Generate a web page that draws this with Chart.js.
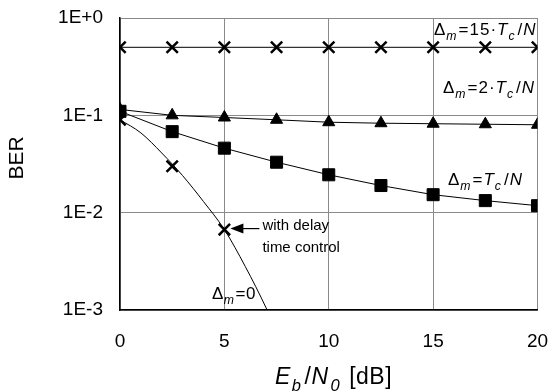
<!DOCTYPE html>
<html>
<head>
<meta charset="utf-8">
<script src="https://cdn.jsdelivr.net/npm/chart.js@4.4.1/dist/chart.umd.min.js"></script>
<style>
  body { margin: 0; background: #fff; }
  #wrap { width: 548px; height: 392px; }
</style>
</head>
<body>
<div id="wrap"><canvas id="myChart" width="548" height="392"></canvas></div>
<script>
// Eb/N0 points (dB) where the simulated markers sit
const ebn0 = [0, 2.5, 5, 7.5, 10, 12.5, 15, 17.5, 20];
// BER
const ber15 = [0.5, 0.5, 0.5, 0.5, 0.5, 0.5, 0.5, 0.5, 0.5];
const ber2 = [0.115, 0.1, 0.095, 0.09, 0.085, 0.083, 0.082, 0.081, 0.08];
const ber1 = [0.11, 0.068, 0.046, 0.033, 0.0245, 0.019, 0.0153, 0.0133, 0.0118];
// delta_m = 0 : markers and the smooth curve
const ebn0Zero = [0, 2.5, 5];
const berZero = [0.09, 0.030, 0.0067];
const curveX = [0, 1, 2, 3, 4, 5, 6, 7, 7.5];
const curveY = [0.09, 0.066, 0.041, 0.024, 0.013, 0.0067, 0.0028, 0.00105, 0.0006];
const yTicks = [0.001, 0.01, 0.1, 1];
const yTickLabels = ["1E-3", "1E-2", "1E-1", "1E+0"];

const FONT = "'Liberation Sans', Arial, sans-serif";

function pts(xs, ys) {
    return xs.map((x, i) => ({ x: x, y: ys[i] }));
}

// draws text made of pieces: {t, it, sub}
function drawRich(ctx, x, y, parts, size, spacing) {
    let cx = x;
    ctx.letterSpacing = (spacing || 0) + "px";
    parts.forEach(p => {
        let s = p.sub ? size * 0.72 : size;
        ctx.font = (p.it ? "italic " : "") + s + "px " + FONT;
        ctx.fillText(p.t, cx, y + (p.sub ? size * 0.3 : 0));
        cx += ctx.measureText(p.t).width + (p.gap || 0);
    });
    ctx.letterSpacing = "0px";
}

const labels = {
    id: "labels",
    afterDraw(chart) {
        const ctx = chart.ctx;
        const xs = chart.scales.x, ys = chart.scales.y;
        ctx.save();
        ctx.fillStyle = "#000";
        ctx.textBaseline = "alphabetic";
        ctx.textAlign = "left";

        drawRich(ctx, 434, 35, [{t: "\u0394"}, {t: "m", it: 1, sub: 1, gap: 1}, {t: "=15\u00b7"}, {t: "T", it: 1}, {t: "c", it: 1, sub: 1, gap: 2}, {t: "/"}, {t: "N", it: 1}], 17, 1);
        drawRich(ctx, 443, 93, [{t: "\u0394"}, {t: "m", it: 1, sub: 1, gap: 1}, {t: "=2\u00b7"}, {t: "T", it: 1}, {t: "c", it: 1, sub: 1, gap: 2}, {t: "/"}, {t: "N", it: 1}], 17, 1);
        drawRich(ctx, 448, 185, [{t: "\u0394"}, {t: "m", it: 1, sub: 1, gap: 1}, {t: "="}, {t: "T", it: 1}, {t: "c", it: 1, sub: 1, gap: 2}, {t: "/"}, {t: "N", it: 1}], 17, 1);
        drawRich(ctx, 212, 299, [{t: "\u0394"}, {t: "m", it: 1, sub: 1, gap: 1}, {t: "=0"}], 17, 0.5);

        // annotation with arrow to the 5 dB marker
        const px = xs.getPixelForValue(5), py = ys.getPixelForValue(0.0067);
        ctx.font = "15px " + FONT;
        ctx.fillText("with delay", px + 38, py);
        ctx.fillText("time control", px + 38, py + 22);
        ctx.strokeStyle = "#000";
        ctx.lineWidth = 1.2;
        ctx.beginPath();
        ctx.moveTo(px + 35, py - 1);
        ctx.lineTo(px + 14, py - 1);
        ctx.stroke();
        ctx.beginPath();
        ctx.moveTo(px + 6, py - 1);
        ctx.lineTo(px + 19, py - 6);
        ctx.lineTo(px + 19, py + 4);
        ctx.closePath();
        ctx.fill();

        // axis titles
        ctx.save();
        ctx.translate(23, 158);
        ctx.rotate(-Math.PI / 2);
        ctx.textAlign = "center";
        ctx.font = "21px " + FONT;
        ctx.fillText("BER", 0, 0);
        ctx.restore();

        drawRich(ctx, 275, 384, [{t: "E", it: 1, gap: 1}, {t: "b", it: 1, sub: 1, gap: 3}, {t: "/"}, {t: "N", it: 1, gap: 2}, {t: "0", it: 1, sub: 1, gap: 2}, {t: " [dB]"}], 23, 0.5);
        ctx.restore();
    }
};

const myChart = new Chart("myChart", {
    type: "line",
    data: {
        datasets: [
            {
                data: pts(ebn0, ber15),
                borderColor: "#000", borderWidth: 1,
                pointStyle: "crossRot", pointRadius: 8, pointBorderWidth: 2.5,
                pointBorderColor: "#000", pointBackgroundColor: "#000"
            },
            {
                data: pts(ebn0, ber2),
                borderColor: "#000", borderWidth: 1,
                pointStyle: "triangle", pointRadius: 7,
                pointBorderColor: "#000", pointBackgroundColor: "#000"
            },
            {
                data: pts(ebn0, ber1),
                borderColor: "#000", borderWidth: 1,
                pointStyle: "rect", pointRadius: 8.5,
                pointBorderColor: "#000", pointBackgroundColor: "#000"
            },
            {
                data: pts(curveX, curveY),
                borderColor: "#000", borderWidth: 1,
                pointRadius: 0,
                cubicInterpolationMode: "monotone"
            },
            {
                data: pts(ebn0Zero, berZero),
                showLine: false,
                pointStyle: "crossRot", pointRadius: 8, pointBorderWidth: 2.5,
                pointBorderColor: "#000", pointBackgroundColor: "#000"
            }
        ]
    },
    options: {
        responsive: false,
        animation: false,
        layout: { padding: { top: 18, right: 8, left: 0, bottom: 0 } },
        plugins: { legend: { display: false }, tooltip: { enabled: false } },
        scales: {
            x: {
                type: "linear", min: 0, max: 20,
                ticks: { stepSize: 5, color: "#000", font: { size: 19, family: FONT }, padding: 20 },
                grid: { color: "#8a8a8a", lineWidth: 1, drawTicks: false },
                border: { color: "#000", width: 1.5 },
                afterFit(s) { s.height = 82; s.paddingLeft = 0; s.paddingRight = 0; }
            },
            y: {
                type: "logarithmic", min: 0.001, max: 1,
                afterBuildTicks(s) { s.ticks = yTicks.map(v => ({ value: v })); },
                ticks: {
                    color: "#000", font: { size: 19, family: FONT }, padding: 17,
                    callback: (v) => yTickLabels[yTicks.indexOf(v)] || ""
                },
                grid: { color: "#8a8a8a", lineWidth: 1, drawTicks: false },
                border: { color: "#000", width: 1.5 },
                afterFit(s) { s.width = 120; s.paddingTop = 0; s.paddingBottom = 0; }
            }
        }
    },
    plugins: [labels]
});
</script>
</body>
</html>
